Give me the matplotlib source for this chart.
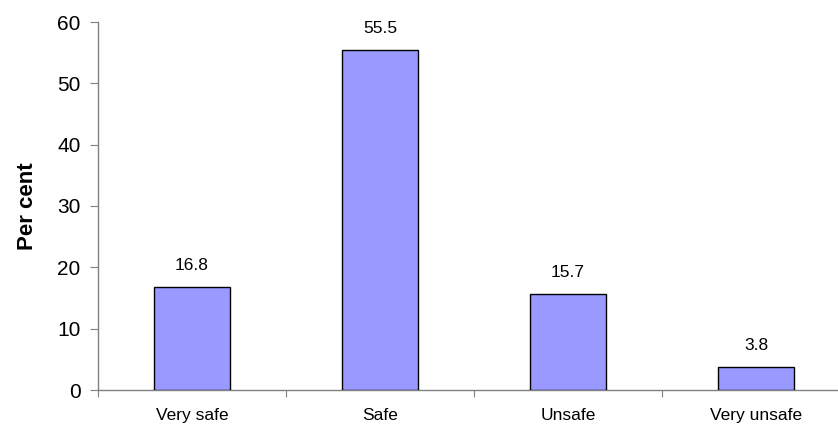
import matplotlib
matplotlib.use("Agg")
import matplotlib.pyplot as plt

categories = ["Very safe", "Safe", "Unsafe", "Very unsafe"]
values = [16.8, 55.5, 15.7, 3.8]
value_labels = ["16.8", "55.5", "15.7", "3.8"]
y_ticks = [0, 10, 20, 30, 40, 50, 60]

plt.rcParams['font.family'] = ['Liberation Sans', 'DejaVu Sans']

fig = plt.figure(figsize=(8.38, 4.30), dpi=100)
ax = fig.add_axes([98/838, 1-390/430, 752/838, 368/430])

x = list(range(len(categories)))
ax.bar(x, values, width=0.405, color="#9999FF", edgecolor="black", linewidth=1.0, zorder=3)

for xi, v, lab in zip(x, values, value_labels):
    ax.annotate(lab, (xi, v), xytext=(0, 10), textcoords="offset points",
                ha="center", va="bottom", fontsize=12.5)

ax.set_xlim(-0.5, 3.5)
ax.set_ylim(0, 60)
ax.set_yticks(y_ticks)
ax.set_yticklabels([str(t) for t in y_ticks], fontsize=15)
ax.set_xticks([-0.5, 0.5, 1.5, 2.5, 3.5])
ax.set_xticklabels([])
ax.set_xticks(x, minor=True)
ax.set_xticklabels(categories, minor=True, fontsize=12.5)
ax.tick_params(axis="x", which="minor", length=0, pad=13)
ax.tick_params(axis="x", which="major", length=5, direction="out", color="#808080")
ax.tick_params(axis="y", length=5.5, direction="out", color="#808080", pad=7)

for s in ["top", "right"]:
    ax.spines[s].set_visible(False)
for s in ["left", "bottom"]:
    ax.spines[s].set_color("#808080")
    ax.spines[s].set_linewidth(1.0)

ax.set_ylabel("Per cent", fontsize=16, fontweight="bold", labelpad=14)

fig.savefig("out.png", dpi=100)
